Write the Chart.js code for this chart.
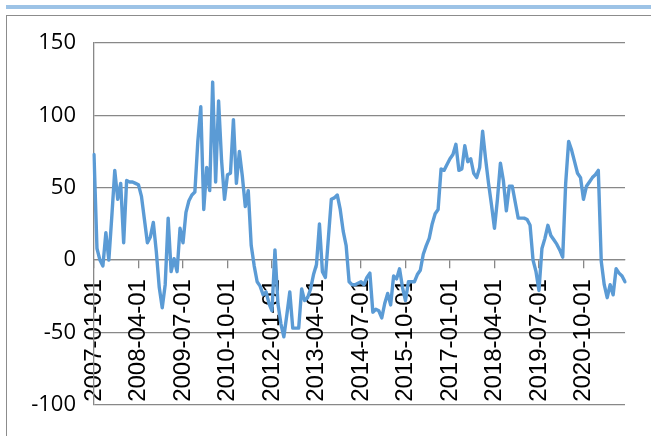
<!DOCTYPE html>
<html>
<head>
<meta charset="utf-8">
<script src="https://cdn.jsdelivr.net/npm/chart.js@4"></script>
<style>
  html, body { margin: 0; padding: 0; background: #fff; }
  #wrap { position: relative; width: 651px; height: 436px; overflow: hidden; }
  #band { position: absolute; left: 6px; top: 5px; width: 645px; height: 4px; background: #9dc3e6; }
  #frame { position: absolute; left: 6px; top: 15px; width: 660px; height: 440px;
           border-left: 1.5px solid #8c8c8c; border-top: 1.5px solid #8c8c8c; }
  canvas { position: absolute; left: 0; top: 0; }
</style>
</head>
<body>
<div id="wrap">
  <div id="band"></div>
  <div id="frame"></div>
  <canvas id="c" width="651" height="436"></canvas>
</div>
<script>
// Monthly series, January 2007 onwards
const startYear = 2007;
const values = [
  73, 8, 0, -4, 19, 0, 30, 62, 42, 53, 12, 55,
  54, 54, 53, 52, 44, 28, 12, 16, 26, 6, -19, -33,
  -17, 29, -8, 1, -8, 22, 12, 33, 41, 45, 47, 82,
  106, 35, 64, 48, 123, 54, 110, 69, 42, 59, 60, 97,
  53, 75, 58, 37, 48, 10, -4, -15, -18, -24, -22, -30,
  -35, 7, -30, -44, -53, -38, -22, -47, -47, -47, -20, -28,
  -26, -20, -10, -3, 25, -8, -12, 15, 42, 43, 45, 35,
  20, 10, -15, -17, -17, -16, -15, -17, -12, -9, -36, -34,
  -35, -40, -30, -23, -31, -11, -13, -6, -19, -28, -15, -15,
  -15, -10, -7, 4, 10, 15, 25, 32, 35, 63, 62, 66,
  70, 73, 80, 62, 63, 79, 68, 70, 60, 57, 64, 89,
  70, 53, 38, 22, 42, 67, 55, 34, 51, 51, 40, 29,
  29, 29, 28, 24, 0, -8, -21, 8, 15, 24, 17, 14,
  11, 7, 2, 53, 82, 76, 68, 60, 57, 42, 51, 54,
  57, 59, 62, -1, -17, -26, -17, -24, -6, -9, -11, -15
];
const tickLabels = [
  '2007-01-01', '2008-04-01', '2009-07-01', '2010-10-01',
  '2012-01-01', '2013-04-01', '2014-07-01', '2015-10-01',
  '2017-01-01', '2018-04-01', '2019-07-01', '2020-10-01'
];
const yMin = -100, yMax = 150, yStep = 50;

// One category per month
const months = values.map((_, k) => {
  const y = startYear + Math.floor(k / 12);
  const m = (k % 12) + 1;
  return y + '-' + String(m).padStart(2, '0') + '-01';
});

const gridColor = '#888888';

new Chart(document.getElementById('c'), {
  type: 'line',
  data: {
    labels: months,
    datasets: [{
      data: values,
      borderColor: '#5b9bd5',
      borderWidth: 3.4,
      pointRadius: 0,
      tension: 0,
      fill: false,
      borderJoinStyle: 'round',
      borderCapStyle: 'round'
    }]
  },
  options: {
    responsive: false,
    animation: false,
    devicePixelRatio: 1,
    layout: { padding: { left: 0, top: 43, right: 26, bottom: 26 } },
    plugins: { legend: { display: false }, tooltip: { enabled: false } },
    scales: {
      x: {
        type: 'category',
        position: { y: 0 },
        offset: false,
        afterFit: (s) => { s.height = 0; },
        grid: {
          display: true,
          drawOnChartArea: false,
          drawTicks: true,
          tickLength: 8,
          color: gridColor,
          lineWidth: 1.3
        },
        border: { display: true, color: gridColor, width: 1.3 },
        ticks: {
          autoSkip: false,
          minRotation: 90,
          maxRotation: 90,
          padding: 11,
          color: '#000',
          font: { family: 'Liberation Sans', size: 24 },
          callback: function (val, idx) {
            const lab = months[idx];
            return tickLabels.includes(lab) ? lab : null;
          }
        }
      },
      y: {
        min: yMin,
        max: yMax,
        afterFit: (s) => { s.width = 94; },
        grid: {
          color: gridColor,
          lineWidth: 1.3,
          drawTicks: false
        },
        border: { display: true, color: gridColor, width: 1.3 },
        ticks: {
          stepSize: yStep,
          padding: 18,
          color: '#000',
          font: { family: 'Open Sans', size: 22 }
        }
      }
    }
  }
});
</script>
</body>
</html>
